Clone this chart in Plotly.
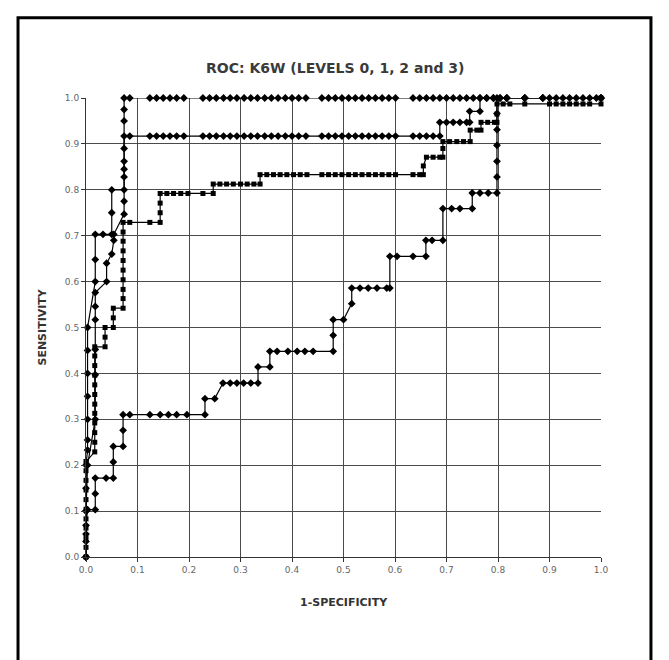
import plotly.graph_objects as go

# ---- data ----
A_x = [0, 0, 0, 0, 0, 0.003, 0.003, 0.003, 0.003, 0.003, 0.003, 0.003, 0.018, 0.018, 0.018, 0.033, 0.05, 0.05, 0.05,
       0.074, 0.074, 0.074, 0.074, 0.074,
       0.085, 0.124, 0.137, 0.15, 0.163, 0.176, 0.19, 0.227, 0.24, 0.253, 0.267, 0.28, 0.293, 0.307, 0.32, 0.333,
       0.347, 0.36, 0.373, 0.387, 0.4, 0.413, 0.427, 0.458, 0.471, 0.484, 0.497, 0.51, 0.523, 0.536, 0.549, 0.562,
       0.575, 0.588, 0.601, 0.635, 0.648, 0.661, 0.674, 0.687, 0.7, 0.713, 0.726, 0.739, 0.752, 0.765, 0.778, 0.791,
       0.804, 0.817, 0.852, 0.887, 0.9, 0.913, 0.926, 0.939, 0.952, 0.965, 0.978, 0.991, 1.0]
A_y = [0, 0.05, 0.1, 0.15, 0.2, 0.233, 0.255, 0.3, 0.35, 0.4, 0.45, 0.5, 0.6, 0.648, 0.703, 0.703, 0.703, 0.75, 0.8,
       0.8, 0.845, 0.95, 0.975, 1.0,
       1.0, 1.0, 1.0, 1.0, 1.0, 1.0, 1.0, 1.0, 1.0, 1.0, 1.0, 1.0, 1.0, 1.0, 1.0, 1.0,
       1.0, 1.0, 1.0, 1.0, 1.0, 1.0, 1.0, 1.0, 1.0, 1.0, 1.0, 1.0, 1.0, 1.0, 1.0, 1.0,
       1.0, 1.0, 1.0, 1.0, 1.0, 1.0, 1.0, 1.0, 1.0, 1.0, 1.0, 1.0, 1.0, 1.0, 1.0, 1.0,
       1.0, 1.0, 1.0, 1.0, 1.0, 1.0, 1.0, 1.0, 1.0, 1.0, 1.0, 1.0, 1.0]

B_x = [0, 0, 0.003, 0.018, 0.018, 0.018, 0.018, 0.018, 0.018, 0.04, 0.04, 0.05, 0.054, 0.054,
       0.074, 0.074, 0.074, 0.074, 0.074, 0.074,
       0.085, 0.124, 0.137, 0.15, 0.163, 0.176, 0.19, 0.227, 0.24, 0.253, 0.267, 0.28, 0.293, 0.307, 0.32, 0.333,
       0.347, 0.36, 0.373, 0.387, 0.4, 0.413, 0.427, 0.458, 0.471, 0.484, 0.497, 0.51, 0.523, 0.536, 0.549, 0.562,
       0.575, 0.588, 0.601, 0.635, 0.648, 0.661, 0.674, 0.687,
       0.687, 0.7, 0.713, 0.726, 0.739, 0.745, 0.745, 0.765, 0.765, 0.778, 0.791, 0.804, 0.817, 0.852, 0.887, 1.0]
B_y = [0, 0.1, 0.2, 0.3, 0.397, 0.452, 0.517, 0.546, 0.576, 0.6, 0.64, 0.66, 0.69, 0.703,
       0.747, 0.775, 0.828, 0.862, 0.89, 0.917,
       0.917, 0.917, 0.917, 0.917, 0.917, 0.917, 0.917, 0.917, 0.917, 0.917, 0.917, 0.917, 0.917, 0.917, 0.917, 0.917,
       0.917, 0.917, 0.917, 0.917, 0.917, 0.917, 0.917, 0.917, 0.917, 0.917, 0.917, 0.917, 0.917, 0.917, 0.917, 0.917,
       0.917, 0.917, 0.917, 0.917, 0.917, 0.917, 0.917, 0.917,
       0.947, 0.947, 0.947, 0.947, 0.947, 0.947, 0.971, 0.971, 1.0, 1.0, 1.0, 1.0, 1.0, 1.0, 1.0, 1.0]

C_x = [0, 0, 0, 0, 0, 0, 0, 0, 0, 0, 0,
       0.017, 0.017, 0.017, 0.017, 0.017, 0.017, 0.017, 0.017, 0.017, 0.017, 0.017, 0.017,
       0.037, 0.037, 0.037, 0.053, 0.053, 0.053,
       0.072, 0.072, 0.072, 0.072, 0.072, 0.072, 0.072, 0.072, 0.072, 0.072,
       0.085, 0.124, 0.144, 0.144, 0.144, 0.144, 0.157, 0.17, 0.184, 0.198, 0.227, 0.247, 0.247,
       0.26, 0.273, 0.286, 0.3, 0.313, 0.326, 0.338, 0.338, 0.351, 0.364, 0.377, 0.39, 0.403, 0.416, 0.429,
       0.458, 0.471, 0.484, 0.497, 0.51, 0.523, 0.536, 0.549, 0.562, 0.575, 0.588, 0.601, 0.635, 0.648, 0.655,
       0.655, 0.661, 0.674, 0.687, 0.693, 0.693, 0.693, 0.706, 0.72, 0.733, 0.746, 0.746, 0.759, 0.767, 0.767,
       0.78, 0.793, 0.798, 0.798, 0.798, 0.81, 0.823, 0.852, 0.9, 0.913, 0.926, 0.939, 0.952, 0.965, 0.978,
       1.0, 1.0]
C_y = [0, 0.021, 0.042, 0.063, 0.083, 0.104, 0.125, 0.146, 0.167, 0.188, 0.208,
       0.229, 0.25, 0.271, 0.292, 0.313, 0.333, 0.354, 0.375, 0.396, 0.417, 0.438, 0.458,
       0.458, 0.479, 0.5, 0.5, 0.521, 0.542,
       0.542, 0.563, 0.583, 0.604, 0.625, 0.646, 0.667, 0.688, 0.708, 0.729,
       0.729, 0.729, 0.729, 0.75, 0.771, 0.792, 0.792, 0.792, 0.792, 0.792, 0.792, 0.792, 0.8125,
       0.8125, 0.8125, 0.8125, 0.8125, 0.8125, 0.8125, 0.8125, 0.833, 0.833, 0.833, 0.833, 0.833, 0.833, 0.833, 0.833,
       0.833, 0.833, 0.833, 0.833, 0.833, 0.833, 0.833, 0.833, 0.833, 0.833, 0.833, 0.833, 0.833, 0.833, 0.833,
       0.852, 0.871, 0.871, 0.871, 0.871, 0.89, 0.905, 0.905, 0.905, 0.905, 0.905, 0.93, 0.93, 0.93, 0.947,
       0.947, 0.947, 0.947, 0.965, 0.987, 0.987, 0.987, 0.987, 0.987, 0.987, 0.987, 0.987, 0.987, 0.987, 0.987,
       0.987, 1.0]

D_x = [0, 0, 0, 0.003, 0.018, 0.018, 0.018, 0.039, 0.053, 0.053, 0.053, 0.072, 0.072, 0.072,
       0.085, 0.124, 0.144, 0.16, 0.176, 0.196, 0.231, 0.231, 0.25, 0.266, 0.28, 0.293, 0.306, 0.32, 0.334,
       0.334, 0.357, 0.357, 0.371, 0.392, 0.41, 0.425, 0.441, 0.48, 0.48, 0.48, 0.5, 0.516, 0.516,
       0.532, 0.548, 0.565, 0.584, 0.59, 0.59, 0.604, 0.635, 0.66, 0.66, 0.672, 0.693, 0.693,
       0.71, 0.726, 0.75, 0.75, 0.765, 0.781, 0.798, 0.798, 0.798, 0.798, 0.798, 0.798, 0.798,
       0.817, 0.852, 0.887, 1.0]
D_y = [0, 0.034, 0.069, 0.103, 0.103, 0.138, 0.172, 0.172, 0.172, 0.207, 0.241, 0.241, 0.276, 0.31,
       0.31, 0.31, 0.31, 0.31, 0.31, 0.31, 0.31, 0.345, 0.345, 0.379, 0.379, 0.379, 0.379, 0.379, 0.379,
       0.414, 0.414, 0.448, 0.448, 0.448, 0.448, 0.448, 0.448, 0.448, 0.483, 0.517, 0.517, 0.552, 0.586,
       0.586, 0.586, 0.586, 0.586, 0.586, 0.655, 0.655, 0.655, 0.655, 0.69, 0.69, 0.69, 0.759,
       0.759, 0.759, 0.759, 0.793, 0.793, 0.793, 0.793, 0.828, 0.862, 0.897, 0.931, 0.966, 1.0,
       1.0, 1.0, 1.0, 1.0]

tick_vals = [0, 0.1, 0.2, 0.3, 0.4, 0.5, 0.6, 0.7, 0.8, 0.9, 1.0]
tick_text = ["0.0", "0.1", "0.2", "0.3", "0.4", "0.5", "0.6", "0.7", "0.8", "0.9", "1.0"]

FONT = "DejaVu Sans, sans-serif"

fig = go.Figure()
series = [(A_x, A_y, "diamond"), (B_x, B_y, "diamond"), (C_x, C_y, "square"), (D_x, D_y, "diamond")]
for xs, ys, sym in series:
    fig.add_trace(go.Scatter(
        x=xs, y=ys, mode="lines+markers",
        line=dict(color="black", width=1.2),
        marker=dict(symbol=sym, size=6 if sym == "diamond" else 5, color="black"),
        cliponaxis=False, showlegend=False, hoverinfo="skip"))

axis_common = dict(
    range=[0, 1], tickvals=tick_vals, ticktext=tick_text,
    showgrid=True, gridcolor="#4a4a4a", gridwidth=1,
    zeroline=False, showline=True, linecolor="#333", linewidth=1,
    ticks="outside", ticklen=4, tickcolor="#333",
    tickfont=dict(family=FONT, size=9, color="#666"),
    fixedrange=True,
)
fig.update_xaxes(**axis_common)
fig.update_yaxes(**axis_common)

fig.update_layout(
    width=669, height=660,
    margin=dict(l=86, r=68, t=98, b=103),
    plot_bgcolor="white", paper_bgcolor="white",
    annotations=[
        dict(text="<b>ROC: K6W (LEVELS 0, 1, 2 and 3)</b>", xref="paper", yref="paper",
             x=0.4835, y=1.066, showarrow=False, xanchor="center", yanchor="middle",
             font=dict(family=FONT, size=14, color="#3a3a3a")),
        dict(text="<b>SENSITIVITY</b>", xref="paper", yref="paper", x=-0.0854, y=0.5, textangle=-90,
             showarrow=False, xanchor="center", yanchor="middle",
             font=dict(family=FONT, size=11, color="#333")),
        dict(text="<b>1-SPECIFICITY</b>", xref="paper", yref="paper", x=0.5, y=-0.1,
             showarrow=False, xanchor="center", yanchor="middle",
             font=dict(family=FONT, size=11, color="#333")),
    ],
    shapes=[
        dict(type="rect", xref="paper", yref="paper", x0=-0.132, x1=1.097, y0=-0.25, y1=1.175,
             line=dict(color="black", width=3), fillcolor="rgba(0,0,0,0)", layer="above"),
    ],
)

fig.write_html("out.html")
